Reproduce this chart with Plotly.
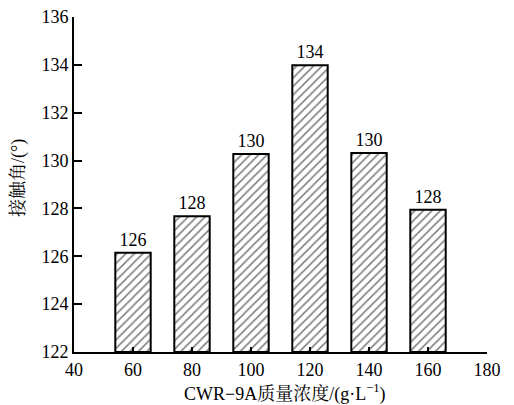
import plotly.graph_objects as go

concentration = [60, 80, 100, 120, 140, 160]
contact_angle = [126.15, 127.67, 130.27, 133.98, 130.32, 127.94]
bar_labels = ["126", "128", "130", "134", "130", "128"]
x_ticks = [40, 60, 80, 100, 120, 140, 160, 180]
y_ticks = [122, 124, 126, 128, 130, 132, 134, 136]
x_title = "CWR−9A质量浓度/(g·L<sup>−1</sup>)"
y_title = "接触角/(°)"

FONT = "Times New Roman, Liberation Serif, Noto Serif CJK SC, Noto Sans CJK SC, serif"

# page body has an 8px default margin, so the figure is sized to fit the window
W, H = 506, 397
L, R, T, B = 66, 27, 9, 53

fig = go.Figure()
fig.add_trace(go.Bar(
    x=concentration,
    y=[v - 122 for v in contact_angle],
    base=122,
    width=12,
    text=bar_labels,
    textposition="outside",
    textfont=dict(family=FONT, size=18, color="black"),
    cliponaxis=False,
    marker=dict(
        color="white",
        line=dict(color="black", width=2),
        pattern=dict(shape="/", fgcolor="black", bgcolor="white", size=6, solidity=0.26),
    ),
))

pw, ph = W - L - R, H - T - B
fig.add_annotation(text=x_title, xref="paper", yref="paper",
                   x=(277 - L) / pw, y=-(385 - (H - B)) / ph,
                   xanchor="center", yanchor="middle", showarrow=False,
                   font=dict(family=FONT, size=18, color="black"))
fig.add_annotation(text=y_title, xref="paper", yref="paper",
                   x=(10 - L) / pw, y=((H - B) - 170) / ph, textangle=-90,
                   xanchor="center", yanchor="middle", showarrow=False,
                   font=dict(family=FONT, size=18, color="black"))

fig.update_layout(
    width=W, height=H,
    margin=dict(l=L, r=R, t=T, b=B),
    paper_bgcolor="white", plot_bgcolor="white",
    showlegend=False,
    font=dict(family=FONT, size=18, color="black"),
    xaxis=dict(
        range=[40, 180], tickvals=x_ticks, ticktext=[str(v) for v in x_ticks],
        showgrid=False, zeroline=False, showline=True, linecolor="black", linewidth=2,
        ticks="inside", ticklen=5, tickwidth=1.5, tickcolor="black",
        automargin=False, ticklabeloverflow="allow",
        tickfont=dict(family=FONT, size=18),
    ),
    yaxis=dict(
        range=[122, 136], tickvals=y_ticks, ticktext=[str(v) for v in y_ticks],
        showgrid=False, zeroline=False, showline=True, linecolor="black", linewidth=2,
        ticks="inside", ticklen=8, tickwidth=2, tickcolor="black",
        automargin=False, ticklabeloverflow="allow",
        tickfont=dict(family=FONT, size=18),
    ),
)

fig.write_html("out.html")
